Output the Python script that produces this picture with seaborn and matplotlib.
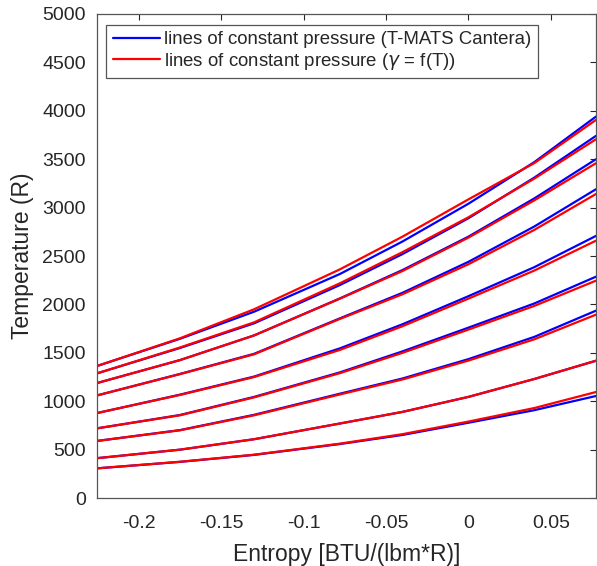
import matplotlib
matplotlib.use("Agg")
import matplotlib.pyplot as plt
import seaborn as sns
import pandas as pd
from matplotlib.lines import Line2D

# Entropy sample positions [BTU/(lbm*R)]
entropy = [-0.2253, -0.175, -0.13, -0.078, -0.04, 0.0, 0.04, 0.0773]

# Lines of constant pressure, T-MATS Cantera (blue)
cantera = [
    [1364, 1645, 1925, 2314, 2650, 3040, 3470, 3939],
    [1288, 1550, 1805, 2200, 2520, 2890, 3310, 3740],
    [1188, 1425, 1680, 2062, 2355, 2700, 3095, 3499],
    [1060, 1282, 1490, 1856, 2120, 2440, 2805, 3189],
    [878, 1068, 1255, 1546, 1795, 2085, 2385, 2707],
    [720, 858, 1045, 1298, 1515, 1760, 2010, 2286],
    [590, 702, 860, 1078, 1235, 1435, 1665, 1935],
    [412, 500, 608, 770, 890, 1045, 1230, 1418],
    [307, 374, 446, 558, 652, 778, 908, 1054],
]

# Lines of constant pressure, gamma = f(T) (red)
gamma_fT = [
    [1364, 1650, 1950, 2362, 2700, 3085, 3460, 3905],
    [1288, 1555, 1815, 2218, 2540, 2900, 3300, 3705],
    [1188, 1425, 1680, 2059, 2345, 2690, 3075, 3458],
    [1060, 1280, 1485, 1850, 2105, 2415, 2770, 3140],
    [878, 1065, 1250, 1530, 1775, 2060, 2350, 2658],
    [720, 855, 1040, 1290, 1500, 1740, 1985, 2245],
    [590, 700, 855, 1070, 1225, 1420, 1640, 1894],
    [412, 500, 608, 770, 890, 1045, 1230, 1418],
    [307, 375, 448, 562, 660, 790, 930, 1095],
]

labels = ["lines of constant pressure (T-MATS Cantera)",
          "lines of constant pressure ($\\gamma$ = f(T))"]
xticks = [-0.2, -0.15, -0.1, -0.05, 0, 0.05]
xticklabels = ["-0.2", "-0.15", "-0.1", "-0.05", "0", "0.05"]
yticks = list(range(0, 5001, 500))

sns.set_style("white")
plt.rcParams["font.family"] = ["Liberation Sans", "DejaVu Sans"]
plt.rcParams["axes.unicode_minus"] = False
plt.rcParams["mathtext.fontset"] = "dejavusans"

fig = plt.figure(figsize=(5.97, 5.66), dpi=100)
ax = fig.add_axes([0.1625, 0.120, 0.8355, 0.8553])

for series, color in ((cantera, "#0000ff"), (gamma_fT, "#ff0000")):
    for vals in series:
        df = pd.DataFrame({"s": entropy, "T": vals})
        sns.lineplot(data=df, x="s", y="T", ax=ax, color=color, lw=1.6,
                     estimator=None, sort=False)

ax.set_xlim(-0.2253, 0.0773)
ax.set_ylim(0, 5000)
ax.set_xticks(xticks)
ax.set_xticklabels(xticklabels)
ax.set_yticks(yticks)
ax.tick_params(direction="in", top=True, right=True, length=4, width=0.8,
               labelsize=14, colors="#262626", pad=8)
ax.tick_params(axis="x", pad=12)
for sp in ax.spines.values():
    sp.set_visible(True)
    sp.set_color("#555555")
    sp.set_linewidth(0.9)

ax.set_xlabel("Entropy [BTU/(lbm*R)]", fontsize=16.5, color="#262626", labelpad=8)
ax.set_ylabel("Temperature (R)", fontsize=16.5, color="#262626", labelpad=6)

handles = [Line2D([], [], color="#0000ff", lw=1.6),
           Line2D([], [], color="#ff0000", lw=1.6)]
leg = ax.legend(handles, labels, loc="upper left", fontsize=13.4,
                bbox_to_anchor=(0.019, 0.978), borderaxespad=0,
                handlelength=2.5, handletextpad=0.25, borderpad=0.35,
                labelspacing=0.15, fancybox=False, framealpha=1)
leg.get_frame().set_edgecolor("#555555")
leg.get_frame().set_linewidth(0.9)
for t in leg.get_texts():
    t.set_color("#262626")

fig.savefig("out.png", dpi=100)
